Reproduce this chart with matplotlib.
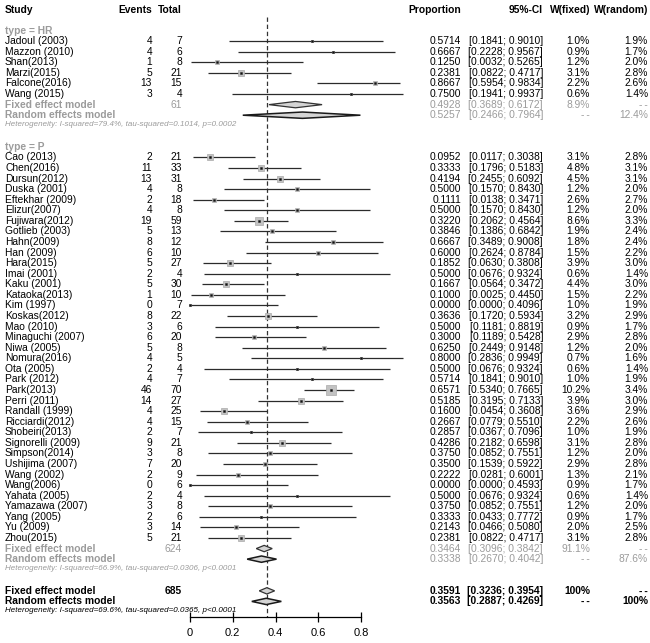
import numpy as np
import matplotlib
matplotlib.use("Agg")
import matplotlib.pyplot as plt
import matplotlib.transforms as mtransforms

plt.rcParams['font.family'] = ['Liberation Sans', 'DejaVu Sans']

# ---- data ----
hr_names = ["Jadoul (2003)", "Mazzon (2010)", "Shan(2013)", "Marzi(2015)", "Falcone(2016)", "Wang (2015)"]
hr_events = [4, 4, 1, 5, 13, 3]
hr_total = [7, 6, 8, 21, 15, 4]
hr_prop = [0.5714, 0.6667, 0.1250, 0.2381, 0.8667, 0.7500]
hr_lo = [0.1841, 0.2228, 0.0032, 0.0822, 0.5954, 0.1941]
hr_hi = [0.9010, 0.9567, 0.5265, 0.4717, 0.9834, 0.9937]
hr_wfix = [1.0, 0.9, 1.2, 3.1, 2.2, 0.6]
hr_wran = [1.9, 1.7, 2.0, 2.8, 2.6, 1.4]

p_names = ["Cao (2013)", "Chen(2016)", "Dursun(2012)", "Duska (2001)", "Eftekhar (2009)", "Elizur(2007)",
           "Fujiwara(2012)", "Gotlieb (2003)", "Hahn(2009)", "Han (2009)", "Hara(2015)", "Imai (2001)",
           "Kaku (2001)", "Kataoka(2013)", "Kim (1997)", "Koskas(2012)", "Mao (2010)", "Minaguchi (2007)",
           "Niwa (2005)", "Nomura(2016)", "Ota (2005)", "Park (2012)", "Park(2013)", "Perri (2011)",
           "Randall (1999)", "Ricciardi(2012)", "Shobeiri(2013)", "Signorelli (2009)", "Simpson(2014)",
           "Ushijima (2007)", "Wang (2002)", "Wang(2006)", "Yahata (2005)", "Yamazawa (2007)",
           "Yang (2005)", "Yu (2009)", "Zhou(2015)"]
p_events = [2, 11, 13, 4, 2, 4, 19, 5, 8, 6, 5, 2, 5, 1, 0, 8, 3, 6, 5, 4, 2, 4, 46, 14, 4, 4, 2, 9, 3,
            7, 2, 0, 2, 3, 2, 3, 5]
p_total = [21, 33, 31, 8, 18, 8, 59, 13, 12, 10, 27, 4, 30, 10, 7, 22, 6, 20, 8, 5, 4, 7, 70, 27, 25, 15,
           7, 21, 8, 20, 9, 6, 4, 8, 6, 14, 21]
p_prop = [0.0952, 0.3333, 0.4194, 0.5000, 0.1111, 0.5000, 0.3220, 0.3846, 0.6667, 0.6000, 0.1852, 0.5000,
          0.1667, 0.1000, 0.0000, 0.3636, 0.5000, 0.3000, 0.6250, 0.8000, 0.5000, 0.5714, 0.6571, 0.5185,
          0.1600, 0.2667, 0.2857, 0.4286, 0.3750, 0.3500, 0.2222, 0.0000, 0.5000, 0.3750, 0.3333, 0.2143,
          0.2381]
p_lo = [0.0117, 0.1796, 0.2455, 0.1570, 0.0138, 0.1570, 0.2062, 0.1386, 0.3489, 0.2624, 0.0630, 0.0676,
        0.0564, 0.0025, 0.0000, 0.1720, 0.1181, 0.1189, 0.2449, 0.2836, 0.0676, 0.1841, 0.5340, 0.3195,
        0.0454, 0.0779, 0.0367, 0.2182, 0.0852, 0.1539, 0.0281, 0.0000, 0.0676, 0.0852, 0.0433, 0.0466,
        0.0822]
p_hi = [0.3038, 0.5183, 0.6092, 0.8430, 0.3471, 0.8430, 0.4564, 0.6842, 0.9008, 0.8784, 0.3808, 0.9324,
        0.3472, 0.4450, 0.4096, 0.5934, 0.8819, 0.5428, 0.9148, 0.9949, 0.9324, 0.9010, 0.7665, 0.7133,
        0.3608, 0.5510, 0.7096, 0.6598, 0.7551, 0.5922, 0.6001, 0.4593, 0.9324, 0.7551, 0.7772, 0.5080,
        0.4717]
p_wfix = [3.1, 4.8, 4.5, 1.2, 2.6, 1.2, 8.6, 1.9, 1.8, 1.5, 3.9, 0.6, 4.4, 1.5, 1.0, 3.2, 0.9, 2.9, 1.2,
          0.7, 0.6, 1.0, 10.2, 3.9, 3.6, 2.2, 1.0, 3.1, 1.2, 2.9, 1.3, 0.9, 0.6, 1.2, 0.9, 2.0, 3.1]
p_wran = [2.8, 3.1, 3.1, 2.0, 2.7, 2.0, 3.3, 2.4, 2.4, 2.2, 3.0, 1.4, 3.0, 2.2, 1.9, 2.9, 1.7, 2.8, 2.0,
          1.6, 1.4, 1.9, 3.4, 3.0, 2.9, 2.6, 1.9, 2.8, 2.0, 2.8, 2.1, 1.7, 1.4, 2.0, 1.7, 2.5, 2.8]

# pooled estimates: [estimate, lower, upper]
hr_fixed = [0.4928, 0.3689, 0.6172]
hr_random = [0.5257, 0.2466, 0.7964]
p_fixed = [0.3464, 0.3096, 0.3842]
p_random = [0.3338, 0.2670, 0.4042]
all_fixed = [0.3591, 0.3236, 0.3954]
all_random = [0.3563, 0.2887, 0.4269]
group_totals = [61, 624, 685]
group_wfix = ["8.9%", "91.1%", "100%"]
group_wran = ["12.4%", "87.6%", "100%"]
het_texts = ["Heterogeneity: I-squared=79.4%, tau-squared=0.1014, p=0.0002",
             "Heterogeneity: I-squared=66.9%, tau-squared=0.0306, p<0.0001",
             "Heterogeneity: I-squared=69.6%, tau-squared=0.0365, p<0.0001"]
x_ticks = [0, 0.2, 0.4, 0.6, 0.8]
x_ticklabels = ["0", "0.2", "0.4", "0.6", "0.8"]

# ---- layout ----
W, H = 650, 643
X0PX, XSCALE = 190, 214          # pixel of 0 and pixels per unit
ROW0PX, ROWPX = 9.5, 10.57       # pixel of header row and row height
FS = 7.4
GRAY = '#9b9b9b'
DASHES = "-\u2009-"

fig = plt.figure(figsize=(W / 100, H / 100), dpi=100)
ax = fig.add_axes([0, 0, 1, 1])
ax.set_xlim(-X0PX / XSCALE, (W - X0PX) / XSCALE)
ax.set_ylim((H - ROW0PX) / ROWPX, -ROW0PX / ROWPX)
ax.yaxis.set_visible(False)
for s in ['top', 'left', 'right']:
    ax.spines[s].set_visible(False)

tr = mtransforms.blended_transform_factory(fig.transFigure, ax.transData)
col_study, col_events, col_total = 5, 152, 182
col_prop, col_ci, col_wf, col_wr = 461, 543, 590, 648


def txt(xpx, row, s, ha='right', **kw):
    kw.setdefault('fontsize', FS)
    ax.text(xpx / W, row, s, transform=tr, ha=ha, va='center', **kw)


def fmt_ci(lo, hi):
    return f"[{lo:.4f}; {hi:.4f}]"


# header
for xpx, lab, ha in [(col_study, "Study", 'left'), (col_events, "Events", 'right'),
                     (col_total, "Total", 'right'), (col_prop, "Proportion", 'right'),
                     (col_ci, "95%-CI", 'right'), (col_wf, "W(fixed)", 'right'),
                     (col_wr, "W(random)", 'right')]:
    txt(xpx, 0, lab, ha=ha, fontweight='bold')

MAXW = max(max(hr_wfix), max(p_wfix))


def draw_study(row, name, ev, tot, prop, lo, hi, wf, wr):
    txt(col_study, row, name, ha='left')
    txt(col_events, row, str(ev))
    txt(col_total, row, str(tot))
    txt(col_prop, row, f"{prop:.4f}")
    txt(col_ci, row, fmt_ci(lo, hi))
    txt(col_wf, row, f"{wf:.1f}%")
    txt(col_wr, row, f"{wr:.1f}%")
    ax.plot([lo, hi], [row, row], color='#2b2b2b', lw=0.9, solid_capstyle='butt')
    side = 6.6 * np.sqrt(wf / MAXW)
    ax.plot(prop, row, marker='s', ms=side, mfc='#c2c2c2', mec='#aaaaaa', mew=0.5, zorder=3)
    ax.plot(prop, row, marker='s', ms=1.4, mfc='#111111', mec='#111111', mew=0.3, zorder=4)


def diamond(row, est, lo, hi, ec, lw=0.9, h=0.3):
    ax.fill([lo, est, hi, est, lo], [row, row - h, row, row + h, row],
            facecolor='#d4d4d4', edgecolor=ec, lw=lw, zorder=3)


def draw_pooled(row, fixed, random, total, wf, wr, het, color, weight):
    txt(col_study, row, "Fixed effect model", ha='left', color=color, fontweight='bold')
    txt(col_total, row, str(total), color=color, fontweight=weight)
    txt(col_prop, row, f"{fixed[0]:.4f}", color=color, fontweight=weight)
    txt(col_ci, row, fmt_ci(fixed[1], fixed[2]), color=color, fontweight=weight)
    txt(col_wf, row, wf, color=color, fontweight=weight)
    txt(col_wr, row, DASHES, color=color, fontweight=weight)
    diamond(row, *fixed, ec='#333333')
    r2 = row + 1
    txt(col_study, r2, "Random effects model", ha='left', color=color, fontweight='bold')
    txt(col_prop, r2, f"{random[0]:.4f}", color=color, fontweight=weight)
    txt(col_ci, r2, fmt_ci(random[1], random[2]), color=color, fontweight=weight)
    txt(col_wf, r2, DASHES, color=color, fontweight=weight)
    txt(col_wr, r2, wr, color=color, fontweight=weight)
    diamond(r2, *random, ec='#1a1a1a', lw=1.1)
    txt(col_study, row + 1.9, het, ha='left', color=color, fontsize=5.8, fontstyle='italic')


# subgroup HR
txt(col_study, 2, "type = HR", ha='left', color=GRAY, fontweight='bold')
for i in range(len(hr_names)):
    draw_study(3 + i, hr_names[i], hr_events[i], hr_total[i], hr_prop[i], hr_lo[i], hr_hi[i],
               hr_wfix[i], hr_wran[i])
r = 3 + len(hr_names)
draw_pooled(r, hr_fixed, hr_random, group_totals[0], group_wfix[0], group_wran[0], het_texts[0], GRAY, 'normal')

# subgroup P
r_p = r + 4
txt(col_study, r_p, "type = P", ha='left', color=GRAY, fontweight='bold')
for i in range(len(p_names)):
    draw_study(r_p + 1 + i, p_names[i], p_events[i], p_total[i], p_prop[i], p_lo[i], p_hi[i],
               p_wfix[i], p_wran[i])
r = r_p + 1 + len(p_names)
draw_pooled(r, p_fixed, p_random, group_totals[1], group_wfix[1], group_wran[1], het_texts[1], GRAY, 'normal')

# overall
r_all = r + 4
draw_pooled(r_all, all_fixed, all_random, group_totals[2], group_wfix[2], group_wran[2], het_texts[2],
            'black', 'bold')

axis_row = r_all + 2.5
ax.plot([all_fixed[0], all_fixed[0]], [0.7, axis_row], color='#333333', lw=0.9,
        linestyle=(0, (3.5, 2.2)), zorder=1)

ax.spines['bottom'].set_position(('data', axis_row))
ax.spines['bottom'].set_bounds(x_ticks[0], x_ticks[-1])
ax.spines['bottom'].set_linewidth(0.9)
ax.set_xticks(x_ticks)
ax.set_xticklabels(x_ticklabels)
ax.tick_params(axis='x', direction='inout', length=7, width=0.9, labelsize=8, pad=4)

fig.savefig("out.png", dpi=100)
